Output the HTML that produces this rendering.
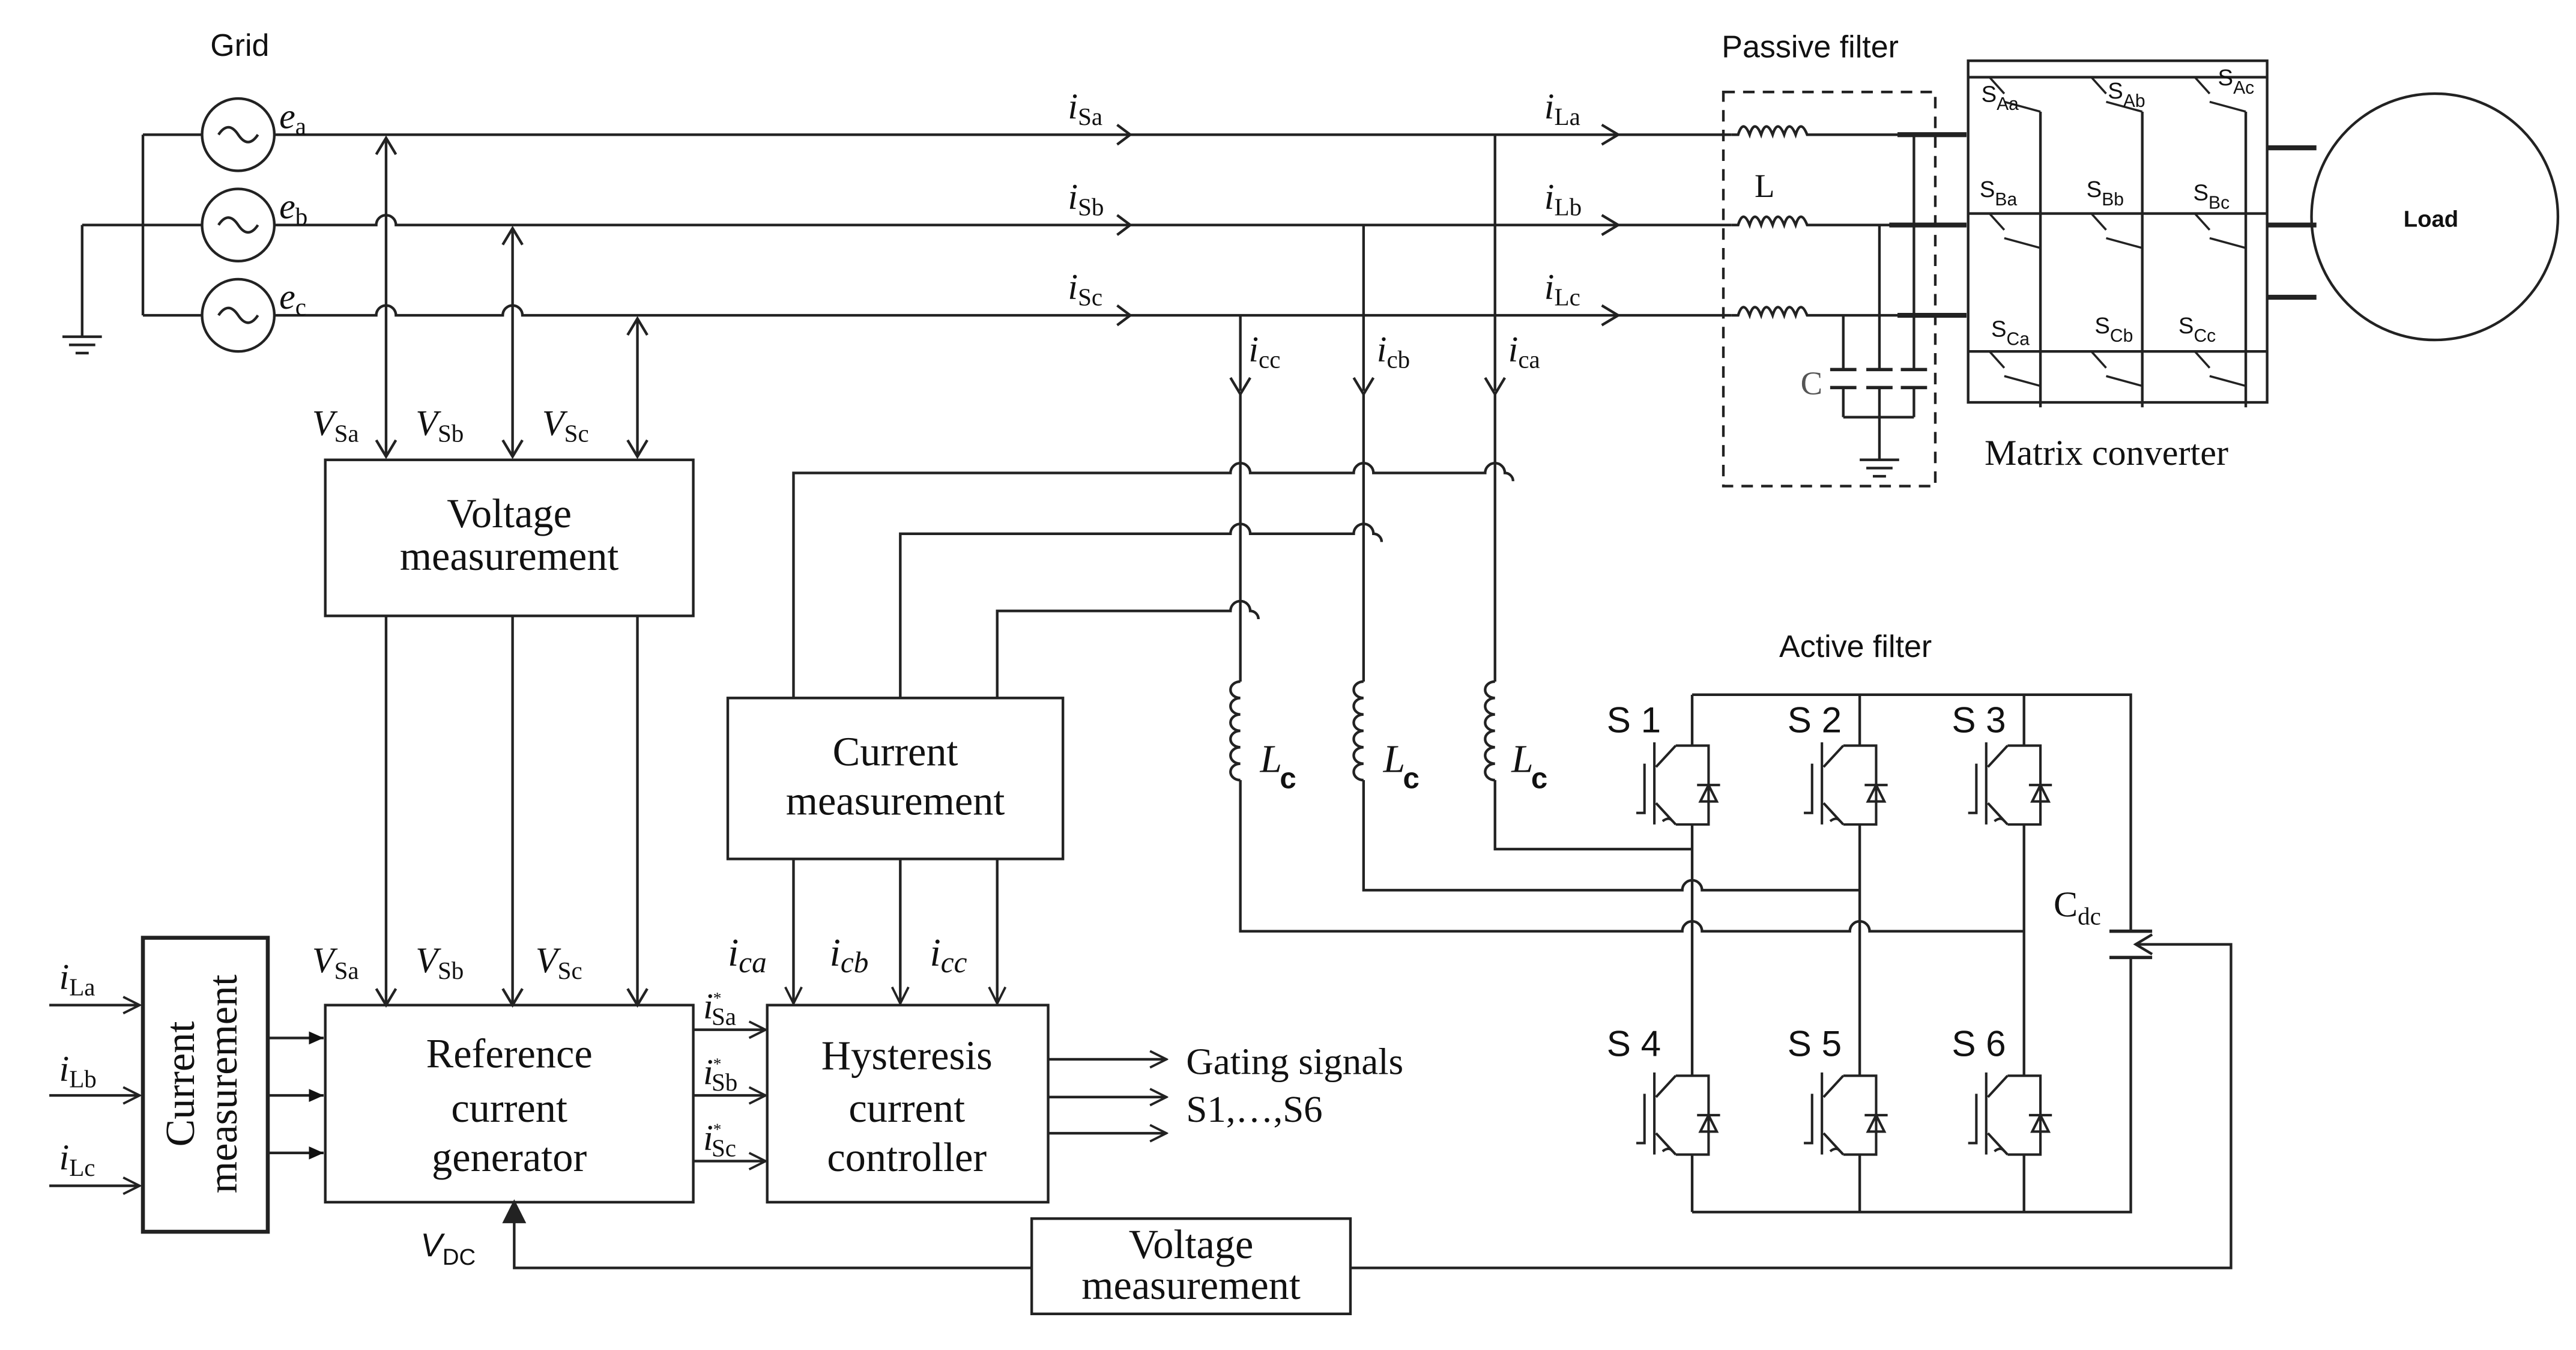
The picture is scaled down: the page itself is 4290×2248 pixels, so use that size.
<!DOCTYPE html>
<html><head><meta charset="utf-8"><style>
html,body{margin:0;padding:0;background:#fff;}
svg{display:block;}
.s{font-family:"Liberation Serif",serif;}
.a{font-family:"Liberation Sans",sans-serif;}
</style></head><body>
<svg width="4290" height="2248" viewBox="0 0 1568 822" preserveAspectRatio="none" xmlns="http://www.w3.org/2000/svg">
<defs>
<marker id="oa" markerWidth="12" markerHeight="12" refX="11" refY="6" orient="auto" markerUnits="userSpaceOnUse"><path d="M1,1 L11,6 L1,11" fill="none" stroke="#222" stroke-width="1.4"/></marker>
<marker id="fa" markerWidth="10" markerHeight="10" refX="9" refY="5" orient="auto" markerUnits="userSpaceOnUse"><path d="M0,1 L9,5 L0,9 Z" fill="#111"/></marker>
</defs>
<g stroke="#222" stroke-width="1.6" fill="none">
<circle cx="145" cy="82" r="22"/><circle cx="145" cy="137" r="22"/><circle cx="145" cy="192" r="22"/>
<path d="M133,82 q6,-9 12,0 t12,0 M133,137 q6,-9 12,0 t12,0 M133,192 q6,-9 12,0 t12,0"/>
<path d="M87,82 H123 M87,137 H123 M87,192 H123 M87,82 V192 M50,137 H87 M50,137 V205 M38,205 H62 M42,210 H58 M46,215 H54"/>
<path d="M167,82 H1054"/>
<path d="M167,137 H229 a6,6 0 0 1 12,0 H1054"/>
<path d="M167,192 H229 a6,6 0 0 1 12,0 H306 a6,6 0 0 1 12,0 H1054"/>
<path d="M680,76 L688,82 L680,88 M680,131 L688,137 L680,143 M680,186 L688,192 L680,198 M975,76 L985,82 L975,88 M975,131 L985,137 L975,143 M975,186 L985,192 L975,198"/>
<path d="M235,84 V278 M312,139 V278 M388,194 V278" />
<path d="M229,94 L235,84 L241,94 M229,268 L235,278 L241,268 M306,149 L312,139 L318,149 M306,268 L312,278 L318,268 M382,204 L388,194 L394,204 M382,268 L388,278 L394,268"/>
<rect x="198" y="280" width="224" height="95"/>
<path d="M235,375 V612 M312,375 V612 M388,375 V612" />
<path d="M229,602 L235,612 L241,602 M306,602 L312,612 L318,602 M382,602 L388,612 L394,602"/>
<rect x="198" y="612" width="224" height="120"/>
<rect x="87" y="571" width="76" height="179" stroke-width="2.4"/>
<path d="M30,612 H85" marker-end="url(#oa)"/>
<path d="M30,667 H85" marker-end="url(#oa)"/>
<path d="M30,722 H85" marker-end="url(#oa)"/>
<path d="M163,632 H197" marker-end="url(#fa)"/>
<path d="M163,667 H197" marker-end="url(#fa)"/>
<path d="M163,702 H197" marker-end="url(#fa)"/>
<path d="M422,627 H466" marker-end="url(#oa)"/>
<path d="M422,667 H466" marker-end="url(#oa)"/>
<path d="M422,707 H466" marker-end="url(#oa)"/>
<rect x="467" y="612" width="171" height="120"/>
<path d="M638,645 H710" marker-end="url(#oa)"/>
<path d="M638,668 H710" marker-end="url(#oa)"/>
<path d="M638,690 H710" marker-end="url(#oa)"/>
<rect x="443" y="425" width="204" height="98"/>
<path d="M483,523 V611" marker-end="url(#oa)"/>
<path d="M548,523 V611" marker-end="url(#oa)"/>
<path d="M607,523 V611" marker-end="url(#oa)"/>
<path d="M483,425 V288 H749 a6,6 0 0 1 12,0 H824 a6,6 0 0 1 12,0 H904 a6,6 0 0 1 12,0 a5,5 0 0 1 5,5"/>
<path d="M548,425 V325 H749 a6,6 0 0 1 12,0 H824 a6,6 0 0 1 12,0 a5,5 0 0 1 5,5"/>
<path d="M607,425 V372 H749 a6,6 0 0 1 12,0 a5,5 0 0 1 5,5"/>
<path d="M755,192 V238 M830,137 V238 M910,82 V238"/>
<path d="M749,230 L755,240 L761,230 M824,230 L830,240 L836,230 M904,230 L910,240 L916,230"/>
<path d="M755,240 V415 M830,240 V415 M910,240 V415"/>
<path d="M755,415 a6,5 0 0 0 0,10 a6,5 0 0 0 0,10 a6,5 0 0 0 0,10 a6,5 0 0 0 0,10 a6,5 0 0 0 0,10 a6,5 0 0 0 0,10"/>
<path d="M830,415 a6,5 0 0 0 0,10 a6,5 0 0 0 0,10 a6,5 0 0 0 0,10 a6,5 0 0 0 0,10 a6,5 0 0 0 0,10 a6,5 0 0 0 0,10"/>
<path d="M910,415 a6,5 0 0 0 0,10 a6,5 0 0 0 0,10 a6,5 0 0 0 0,10 a6,5 0 0 0 0,10 a6,5 0 0 0 0,10 a6,5 0 0 0 0,10"/>
<path d="M910,475 V517 H1030"/>
<path d="M830,475 V542 H1024 a6,6 0 0 1 12,0 H1132"/>
<path d="M755,475 V567 H1024 a6,6 0 0 1 12,0 H1126 a6,6 0 0 1 12,0 H1232"/>
<path d="M1030,423 H1297 V567 M1297,583 V738 H1030 M1030,423 V454 M1030,502 V655 M1030,703 V738 M1132,423 V454 M1132,502 V655 M1132,703 V738 M1232,423 V454 M1232,502 V655 M1232,703 V738"/>
<path d="M1284,567 H1310 M1284,583 H1310" stroke-width="2"/>
<path d="M1300,575 H1358 V772 H822 M628,772 H313 V734"/>
<path d="M1310,569 L1300,575 L1310,581"/>
<path d="M307,744 L313,732 L319,744 Z" fill="#222"/>
<rect x="628" y="742" width="194" height="58"/>
<rect x="1049" y="56" width="129" height="240" stroke-dasharray="7,5"/>
<path d="M1054,82 l4,0 q3,-10 7,0 q3,-10 7,0 q3,-10 7,0 q3,-10 7,0 q3,-10 7,0 q3,-10 7,0 l6,0 H1197"/>
<path d="M1054,137 l4,0 q3,-10 7,0 q3,-10 7,0 q3,-10 7,0 q3,-10 7,0 q3,-10 7,0 q3,-10 7,0 l6,0 H1197"/>
<path d="M1054,192 l4,0 q3,-10 7,0 q3,-10 7,0 q3,-10 7,0 q3,-10 7,0 q3,-10 7,0 q3,-10 7,0 l6,0 H1197"/>
<path d="M1155,82 H1197 M1150,137 H1197 M1155,192 H1197" stroke-width="3"/>
<path d="M1165,82 V225 M1144,137 V225 M1122,192 V225 M1165,236 V254 M1144,236 V280 M1122,236 V254 M1122,254 H1165"/>
<path d="M1114,225 H1130 M1114,236 H1130 M1136,225 H1152 M1136,236 H1152 M1157,225 H1173 M1157,236 H1173" stroke-width="2"/>
<path d="M1132,280 H1156 M1136,285 H1152 M1140,290 H1148"/>
<rect x="1198" y="37" width="182" height="208"/>
<path d="M1198,47 H1380 M1198,130 H1380 M1198,214 H1380"/>
<path d="M1242,68 V248 M1304,68 V248 M1367,68 V248"/>
<g stroke-width="1.3">
<path d="M1211,47 l9,10 m0,5 l22,6 M1273,47 l9,10 m0,5 l22,6 M1336,47 l9,10 m0,5 l22,6"/>
<path d="M1211,130 l9,10 m0,5 l22,6 M1273,130 l9,10 m0,5 l22,6 M1336,130 l9,10 m0,5 l22,6"/>
<path d="M1211,214 l9,10 m0,5 l22,6 M1273,214 l9,10 m0,5 l22,6 M1336,214 l9,10 m0,5 l22,6"/>
</g>
<path d="M1380,90 H1410 M1380,137 H1410 M1380,181 H1410" stroke-width="3"/>
<circle cx="1482" cy="132" r="75"/>
</g>
<g stroke="#222" stroke-width="1.5" fill="none">
<g id="sw"><path d="M1020,454 H1040 V502 H1020 M1020,454 L1008,467 M1007,452 V502 M1008,489 L1020,502 M1001,465 V495 H996 M1033,478 H1047 M1035,488 L1040,478 L1045,488 Z M1012,500 q4,-3 6,0"/></g>
<use href="#sw" x="102"/><use href="#sw" x="202"/>
<use href="#sw" y="201"/><use href="#sw" x="102" y="201"/><use href="#sw" x="202" y="201"/>
</g>
<g fill="#111">
<text x="128" y="34" class="a" font-size="19">Grid</text>
<text x="1048" y="35" class="a" font-size="19">Passive filter</text>
<text x="1083" y="400" class="a" font-size="19">Active filter</text>
<text x="1463" y="138" class="a" font-size="14" font-weight="bold">Load</text>
<text x="1208" y="283" class="s" font-size="22">Matrix converter</text>
<g class="s" font-style="italic" font-size="22">
<text x="170" y="78">e<tspan font-size="15" font-style="normal" dy="4">a</tspan></text>
<text x="170" y="133">e<tspan font-size="15" font-style="normal" dy="4">b</tspan></text>
<text x="170" y="188">e<tspan font-size="15" font-style="normal" dy="4">c</tspan></text>
<text x="650" y="72">i<tspan font-size="15" font-style="normal" dy="4">Sa</tspan></text>
<text x="650" y="127">i<tspan font-size="15" font-style="normal" dy="4">Sb</tspan></text>
<text x="650" y="182">i<tspan font-size="15" font-style="normal" dy="4">Sc</tspan></text>
<text x="940" y="72">i<tspan font-size="15" font-style="normal" dy="4">La</tspan></text>
<text x="940" y="127">i<tspan font-size="15" font-style="normal" dy="4">Lb</tspan></text>
<text x="940" y="182">i<tspan font-size="15" font-style="normal" dy="4">Lc</tspan></text>
<text x="760" y="220">i<tspan font-size="15" font-style="normal" dy="4">cc</tspan></text>
<text x="838" y="220">i<tspan font-size="15" font-style="normal" dy="4">cb</tspan></text>
<text x="918" y="220">i<tspan font-size="15" font-style="normal" dy="4">ca</tspan></text>
<text x="190" y="265">V<tspan font-size="15" font-style="normal" dy="4">Sa</tspan></text>
<text x="253" y="265">V<tspan font-size="15" font-style="normal" dy="4">Sb</tspan></text>
<text x="330" y="265">V<tspan font-size="15" font-style="normal" dy="4">Sc</tspan></text>
<text x="190" y="592">V<tspan font-size="15" font-style="normal" dy="4">Sa</tspan></text>
<text x="253" y="592">V<tspan font-size="15" font-style="normal" dy="4">Sb</tspan></text>
<text x="326" y="592">V<tspan font-size="15" font-style="normal" dy="4">Sc</tspan></text>
<text x="36" y="602">i<tspan font-size="15" font-style="normal" dy="4">La</tspan></text>
<text x="36" y="658">i<tspan font-size="15" font-style="normal" dy="4">Lb</tspan></text>
<text x="36" y="712">i<tspan font-size="15" font-style="normal" dy="4">Lc</tspan></text>
<text x="428" y="620">i<tspan font-size="10" dy="-9" font-style="normal">*</tspan><tspan font-size="15" font-style="normal" dx="-6" dy="13">Sa</tspan></text>
<text x="428" y="660">i<tspan font-size="10" dy="-9" font-style="normal">*</tspan><tspan font-size="15" font-style="normal" dx="-6" dy="13">Sb</tspan></text>
<text x="428" y="700">i<tspan font-size="10" dy="-9" font-style="normal">*</tspan><tspan font-size="15" font-style="normal" dx="-6" dy="13">Sc</tspan></text>
<text x="443" y="588" font-size="24">i<tspan font-size="18" dy="4">ca</tspan></text>
<text x="505" y="588" font-size="24">i<tspan font-size="18" dy="4">cb</tspan></text>
<text x="566" y="588" font-size="24">i<tspan font-size="18" dy="4">cc</tspan></text>
<text x="767" y="470" font-size="24">L</text>
<text x="842" y="470" font-size="24">L</text>
<text x="920" y="470" font-size="24">L</text>
</g>
<text x="779" y="480" class="a" font-size="18" font-weight="bold">c</text>
<text x="854" y="480" class="a" font-size="18" font-weight="bold">c</text>
<text x="932" y="480" class="a" font-size="18" font-weight="bold">c</text>
<text x="256" y="765" class="a" font-size="20" font-style="italic">V<tspan font-size="14" font-style="normal" dy="5">DC</tspan></text>
<text x="1250" y="558" class="s" font-size="22">C<tspan font-size="15" dy="5">dc</tspan></text>
<text x="1068" y="120" class="s" font-size="20">L</text>
<text x="1096" y="240" class="s" font-size="20" fill="#555">C</text>
<g class="a" font-size="14">
<text x="1206" y="62">S<tspan font-size="11" dy="5">Aa</tspan></text>
<text x="1283" y="60">S<tspan font-size="11" dy="5">Ab</tspan></text>
<text x="1350" y="52">S<tspan font-size="11" dy="5">Ac</tspan></text>
<text x="1205" y="120">S<tspan font-size="11" dy="5">Ba</tspan></text>
<text x="1270" y="120">S<tspan font-size="11" dy="5">Bb</tspan></text>
<text x="1335" y="122">S<tspan font-size="11" dy="5">Bc</tspan></text>
<text x="1212" y="205">S<tspan font-size="11" dy="5">Ca</tspan></text>
<text x="1275" y="203">S<tspan font-size="11" dy="5">Cb</tspan></text>
<text x="1326" y="203">S<tspan font-size="11" dy="5">Cc</tspan></text>
</g>
<g class="a" font-size="22">
<text x="978" y="446">S 1</text><text x="1088" y="446">S 2</text><text x="1188" y="446">S 3</text>
<text x="978" y="643">S 4</text><text x="1088" y="643">S 5</text><text x="1188" y="643">S 6</text>
</g>
<g class="s" font-size="25" text-anchor="middle">
<text x="310" y="321">Voltage</text><text x="310" y="347">measurement</text>
<text x="545" y="466">Current</text><text x="545" y="496">measurement</text>
<text x="310" y="650">Reference</text><text x="310" y="683">current</text><text x="310" y="713">generator</text>
<text x="552" y="651">Hysteresis</text><text x="552" y="683">current</text><text x="552" y="713">controller</text>
<text x="725" y="766">Voltage</text><text x="725" y="791">measurement</text>
<text transform="translate(122,660) rotate(-90)" y="-4">Current</text>
<text transform="translate(122,660) rotate(-90)" y="22">measurement</text>
</g>
<text x="722" y="654" class="s" font-size="23">Gating signals</text>
<text x="722" y="683" class="s" font-size="23">S1,…,S6</text>
</g>
</svg>
</body></html>
